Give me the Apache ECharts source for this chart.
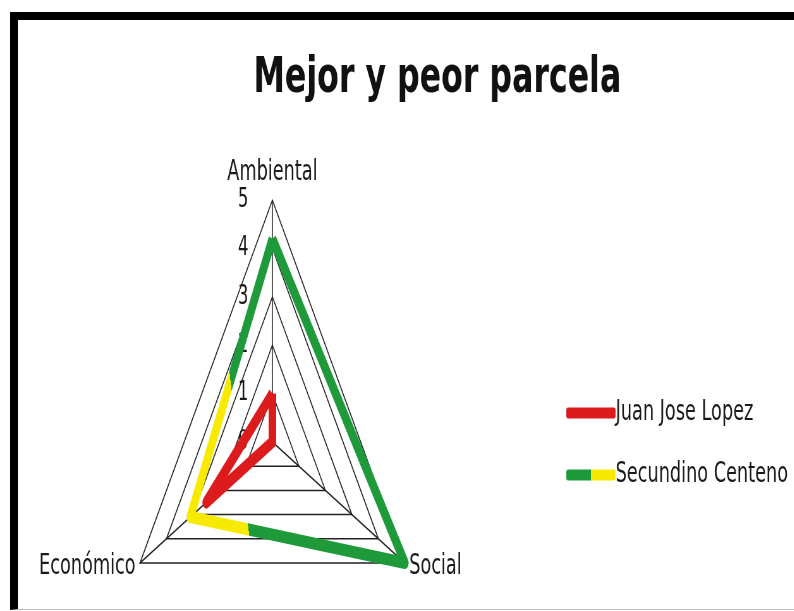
<!DOCTYPE html>
<html>
<head>
<meta charset="utf-8">
<script src="https://cdn.jsdelivr.net/npm/echarts@6/dist/echarts.min.js"></script>
<style>
  html, body { margin: 0; padding: 0; background: #fff; overflow: hidden; }
  #frame {
    position: absolute; left: 10px; top: 12px; width: 784px; height: 598px;
    border-top: 8px solid #000; border-left: 8px solid #000; border-bottom: 1px solid #bbb;
    box-sizing: border-box;
  }
  /* the reference is squeezed horizontally, so the chart is drawn wide and scaled */
  #main {
    position: absolute; left: 0; top: 0; width: 1256px; height: 611px;
    transform: scaleX(0.632); transform-origin: 0 0;
  }
</style>
</head>
<body>
<div id="frame"></div>
<div id="main"></div>
<script>
var indicators = ['Ambiental', 'Económico', 'Social'];
var maxValue = 5;
var seriesNames = ['Juan Jose Lopez', 'Secundino Centeno'];
var juanValues = [1, 2.5, 0];
var secundinoValues = [4.2, 3.1, 5];

var chart = echarts.init(document.getElementById('main'));

var greenYellow = new echarts.graphic.LinearGradient(0, 1, 1, 0.8, [
  { offset: 0, color: '#f7ea00' },
  { offset: 0.29, color: '#f7ea00' },
  { offset: 0.29, color: '#1f9a3b' },
  { offset: 1, color: '#1f9a3b' }
]);
var legendIcon = new echarts.graphic.LinearGradient(0, 0, 1, 0, [
  { offset: 0, color: '#1f9a3b' },
  { offset: 0.5, color: '#1f9a3b' },
  { offset: 0.5, color: '#f7ea00' },
  { offset: 1, color: '#f7ea00' }
]);

chart.setOption({
  animation: false,
  title: {
    text: 'Mejor y peor parcela',
    left: 687,
    textAlign: 'center',
    top: 49,
    textStyle: { fontFamily: 'DejaVu Sans', fontWeight: 'bold', fontSize: 50, color: '#111' }
  },
  legend: {
    orient: 'vertical',
    left: 891,
    top: 394,
    itemGap: 34,
    itemWidth: 78,
    itemHeight: 11,
    icon: 'roundRect',
    textStyle: { fontFamily: 'DejaVu Sans', fontSize: 28, color: '#1a1a1a', padding: [0, 0, 0, -5] },
    data: [
      { name: seriesNames[0], itemStyle: { color: '#dc1c1c' } },
      { name: seriesNames[1], itemStyle: { color: legendIcon } }
    ]
  },
  radar: {
    center: [431, 442],
    radius: 242,
    startAngle: 90,
    splitNumber: 5,
    shape: 'polygon',
    indicator: indicators.map(function (n, i) {
      var ind = { name: n, min: 0, max: maxValue };
      if (i === 0) ind.axisLabel = { show: true };
      return ind;
    }),
    nameGap: 8,
    axisName: { color: '#1a1a1a', fontFamily: 'DejaVu Sans', fontSize: 28 },
    splitLine: { lineStyle: { color: '#222', width: 1.5 } },
    splitArea: { show: false },
    axisLine: { lineStyle: { color: '#222', width: 1.5 } },
    axisTick: { show: false },
    axisLabel: { show: false, color: '#1a1a1a', fontFamily: 'DejaVu Sans', fontSize: 26, margin: 38 }
  },
  series: [{
    type: 'radar',
    symbol: 'none',
    data: [
      {
        name: seriesNames[0],
        value: juanValues,
        lineStyle: { color: '#dc1c1c', width: 12, join: 'round' },
        itemStyle: { color: '#dc1c1c' }
      },
      {
        name: seriesNames[1],
        value: secundinoValues,
        lineStyle: { color: greenYellow, width: 12, join: 'round' },
        itemStyle: { color: '#1f9a3b' }
      }
    ]
  }]
});
</script>
</body>
</html>
